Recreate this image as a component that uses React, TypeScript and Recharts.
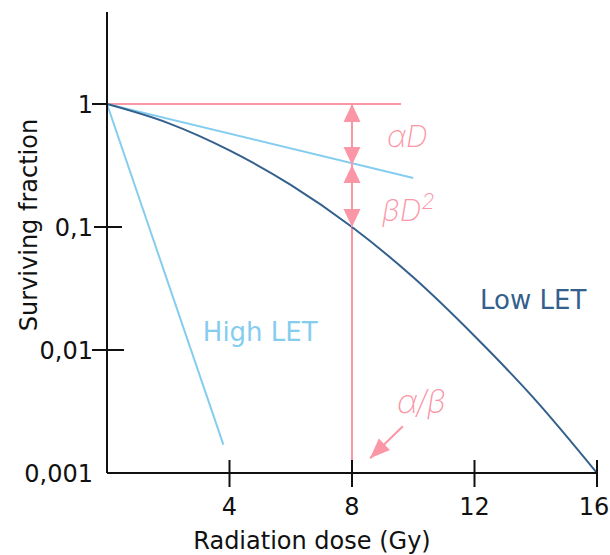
import React from 'react';
import {
  ComposedChart,
  Line,
  XAxis,
  YAxis,
  ReferenceLine,
  ReferenceDot,
} from 'recharts';

// Linear-quadratic cell survival (low LET) read at 2 Gy steps
const doses = [0, 2, 4, 6, 8, 10, 12, 14, 16];
const lowLetSurvival = [1, 0.7, 0.42, 0.22, 0.1, 0.039, 0.013, 0.0039, 0.001];

// Pure linear (αD) component
const alphaDoses = [0, 10];
const alphaSurvival = [1, 0.25];

// High LET: straight exponential kill
const highLetDoses = [0, 3.8];
const highLetSurvival = [1, 0.0017];

const xTicks = [4, 8, 12, 16];
const yTicks = [0.001, 0.01, 0.1, 1];
const yTickLabels = ['0,001', '0,01', '0,1', '1'];

// α/β ratio and the survival levels marked on it
const alphaBetaDose = 8;
const linearComponentAtAB = 0.32;
const totalAtAB = 0.1;
const unityLineEnd = 9.6;

const W = 610;
const H = 555;
const PINK = '#fb96a6';
const LIGHT_BLUE = '#85cdef';
const DARK_BLUE = '#33608c';
const INK = '#111';
const FONT = "'DejaVu Sans', sans-serif";
const HAND_FONT = "Inter, 'Open Sans', sans-serif";

const lowLetData = doses.map((d, i) => ({ dose: d, sf: lowLetSurvival[i] }));
const alphaData = alphaDoses.map((d, i) => ({ dose: d, sf: alphaSurvival[i] }));
const highLetData = highLetDoses.map((d, i) => ({ dose: d, sf: highLetSurvival[i] }));

// tick mark extents (left, right of the axis line) per y tick
const yTickMarks: Record<string, [number, number]> = {
  '1': [-15, 0],
  '0.1': [-13, 15],
  '0.01': [-15, 17],
  '0.001': [0, 0],
};

const XTick = (props: any) => {
  const { x, y, payload } = props;
  // keep the last label inside the canvas
  const tx = Math.min(x, W - 16);
  return (
    <g>
      <line x1={x} x2={x} y1={y - 13} y2={y + 14} stroke={INK} strokeWidth={2} />
      <text x={tx} y={y + 42} textAnchor="middle" fontFamily={FONT} fontSize={24} fill={INK}>
        {payload.value}
      </text>
    </g>
  );
};

const YTick = (props: any) => {
  const { x, y, payload } = props;
  const idx = yTicks.indexOf(payload.value);
  const [l, r] = yTickMarks[String(payload.value)] || [0, 0];
  return (
    <g>
      {l !== r && <line x1={x + l} x2={x + r} y1={y} y2={y} stroke={INK} strokeWidth={2} />}
      <text x={x - 14} y={y + 9} textAnchor="end" fontFamily={FONT} fontSize={24} fill={INK}>
        {yTickLabels[idx]}
      </text>
    </g>
  );
};

const head = (tx: number, ty: number, fx: number, fy: number, len: number, half: number) => {
  const dx = tx - fx;
  const dy = ty - fy;
  const l = Math.hypot(dx, dy) || 1;
  const ux = dx / l;
  const uy = dy / l;
  const bx = tx - ux * len;
  const by = ty - uy * len;
  const px = -uy * half;
  const py = ux * half;
  return (
    <polygon
      points={`${tx},${ty} ${bx + px},${by + py} ${bx - px},${by - py}`}
      fill={PINK}
    />
  );
};

const makeArrow = (atStart: boolean, atEnd: boolean, len: number, half: number) => (p: any) => {
  const { x1, y1, x2, y2 } = p;
  return (
    <g>
      <line x1={x1} y1={y1} x2={x2} y2={y2} stroke={PINK} strokeWidth={2} />
      {atStart && head(x1, y1, x2, y2, len, half)}
      {atEnd && head(x2, y2, x1, y1, len, half)}
    </g>
  );
};

const textShape =
  (content: React.ReactNode, color: string, size: number, extra: any = {}) =>
  (p: any) => (
    <text x={p.cx} y={p.cy} fill={color} fontSize={size} fontFamily={FONT} {...extra}>
      {content}
    </text>
  );

const hand = { fontWeight: 200, fontStyle: 'italic', fontFamily: HAND_FONT };

export default function App() {
  return (
    <div style={{ position: 'absolute', left: 0, top: 0, width: W, height: H, background: '#fff' }}>
      <ComposedChart width={W} height={H} margin={{ top: 12, right: 13, left: 0, bottom: 0 }}>
        <XAxis
          dataKey="dose"
          type="number"
          domain={[0, 16]}
          ticks={xTicks}
          height={82}
          tickSize={0}
          tickMargin={0}
          tickLine={false}
          axisLine={{ stroke: INK, strokeWidth: 2 }}
          tick={<XTick />}
          allowDataOverflow
        />
        <YAxis
          type="number"
          scale="log"
          domain={[0.001, 5.6]}
          ticks={yTicks}
          width={107}
          tickSize={0}
          tickMargin={0}
          tickLine={false}
          axisLine={{ stroke: INK, strokeWidth: 2 }}
          tick={<YTick />}
          allowDataOverflow
        />

        <ReferenceLine
          segment={[{ x: 0, y: 1 }, { x: unityLineEnd, y: 1 }]}
          stroke={PINK}
          strokeWidth={2}
        />
        <ReferenceLine
          segment={[{ x: alphaBetaDose, y: 1 }, { x: alphaBetaDose, y: 0.001 }]}
          stroke={PINK}
          strokeWidth={2}
        />

        <Line
          data={highLetData}
          dataKey="sf"
          type="linear"
          stroke={LIGHT_BLUE}
          strokeWidth={2}
          dot={false}
          isAnimationActive={false}
        />
        <Line
          data={alphaData}
          dataKey="sf"
          type="linear"
          stroke={LIGHT_BLUE}
          strokeWidth={2}
          dot={false}
          isAnimationActive={false}
        />
        <Line
          data={lowLetData}
          dataKey="sf"
          type="monotone"
          stroke={DARK_BLUE}
          strokeWidth={2}
          dot={false}
          isAnimationActive={false}
        />

        <ReferenceLine
          segment={[{ x: alphaBetaDose, y: 1 }, { x: alphaBetaDose, y: linearComponentAtAB }]}
          shape={makeArrow(true, true, 18, 8.5)}
        />
        <ReferenceLine
          segment={[{ x: alphaBetaDose, y: linearComponentAtAB }, { x: alphaBetaDose, y: totalAtAB }]}
          shape={makeArrow(true, true, 18, 8.5)}
        />
        <ReferenceLine
          segment={[{ x: 9.66, y: 0.0024 }, { x: 8.59, y: 0.00132 }]}
          shape={makeArrow(false, true, 20, 8)}
        />

        <ReferenceDot x={3.13} y={0.0118} r={0} shape={textShape('High LET', LIGHT_BLUE, 26)} />
        <ReferenceDot x={12.18} y={0.0216} r={0} shape={textShape('Low LET', DARK_BLUE, 26)} />
        <ReferenceDot x={9.14} y={0.448} r={0} shape={textShape('αD', PINK, 30, hand)} />
        <ReferenceDot
          x={8.98}
          y={0.1125}
          r={0}
          shape={textShape(
            <>
              βD<tspan dy={-12} fontSize={22}>2</tspan>
            </>,
            PINK,
            30,
            hand
          )}
        />
        <ReferenceDot x={9.47} y={0.00306} r={0} shape={textShape('α/β', PINK, 32, hand)} />

        <text
          x={312}
          y={549}
          textAnchor="middle"
          fontFamily={FONT}
          fontSize={24}
          fill={INK}
        >
          Radiation dose (Gy)
        </text>
        <text
          x={37}
          y={225}
          textAnchor="middle"
          fontFamily={FONT}
          fontSize={24}
          fill={INK}
          transform="rotate(-90 37 225)"
        >
          Surviving fraction
        </text>
      </ComposedChart>
    </div>
  );
}
